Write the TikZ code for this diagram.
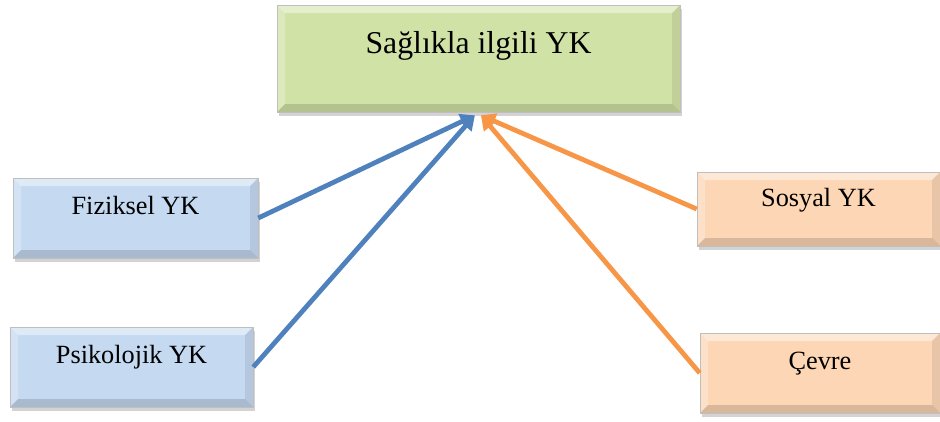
\documentclass[tikz,border=0pt]{standalone}
\usepackage{fontspec}
\setmainfont{Liberation Serif}
\usetikzlibrary{arrows.meta,positioning,shadows}
\definecolor{ykgreen}{RGB}{209,226,166}
\definecolor{ykblue}{RGB}{197,217,241}
\definecolor{ykpeach}{RGB}{252,214,181}
\definecolor{arblue}{RGB}{79,129,189}
\definecolor{arorange}{RGB}{247,150,70}
\newcommand{\bevelw}{0.2cm}
\tikzset{
  bevel/.style = {path picture={
      \fill[white, opacity=0.45]
        (path picture bounding box.north west) -- (path picture bounding box.north east)
        -- ([shift={(-\bevelw,-\bevelw)}]path picture bounding box.north east)
        -- ([shift={(\bevelw,-\bevelw)}]path picture bounding box.north west) -- cycle;
      \fill[white, opacity=0.25]
        (path picture bounding box.north west) -- (path picture bounding box.south west)
        -- ([shift={(\bevelw,\bevelw)}]path picture bounding box.south west)
        -- ([shift={(\bevelw,-\bevelw)}]path picture bounding box.north west) -- cycle;
      \fill[black, opacity=0.14]
        (path picture bounding box.south west) -- (path picture bounding box.south east)
        -- ([shift={(-\bevelw,\bevelw)}]path picture bounding box.south east)
        -- ([shift={(\bevelw,\bevelw)}]path picture bounding box.south west) -- cycle;
      \fill[black, opacity=0.08]
        (path picture bounding box.north east) -- (path picture bounding box.south east)
        -- ([shift={(-\bevelw,\bevelw)}]path picture bounding box.south east)
        -- ([shift={(-\bevelw,-\bevelw)}]path picture bounding box.north east) -- cycle;
  }},
  box/.style   = {draw=black!25, thin, bevel, inner sep=0pt,
                  drop shadow={shadow xshift=1.5pt, shadow yshift=-2.5pt, opacity=0.35},
                  font=\fontsize{18.7}{22}\selectfont,
                  text height=0.45cm, text depth=0.65cm},
  topbox/.style = {box, fill=ykgreen, minimum width=10.075cm, minimum height=2.675cm,
                   font=\fontsize{22.6}{27}\selectfont,
                   text height=0.55cm, text depth=0.78cm},
  lbox/.style  = {box, fill=ykblue},
  rbox/.style  = {box, fill=ykpeach},
  ar/.style    = {-{Triangle[length=3.6mm, width=3.9mm]}, line width=3.4pt},
}
\begin{document}
\begin{tikzpicture}
  \useasboundingbox (0,0) rectangle (23.5,-10.525);

  \node[topbox] (saglik) at (11.9625,-1.4625) {Sağlıkla ilgili YK};

  \node[lbox, minimum width=6.125cm, minimum height=2cm] (fiziksel) at (3.3875,-5.45) {Fiziksel YK};
  \node[lbox, minimum width=6.075cm, minimum height=2cm] (psiko) at (3.2875,-9.175) {Psikolojik YK};
  \node[rbox, minimum width=6.075cm, minimum height=1.85cm, text depth=0.57cm] (sosyal) at (20.4625,-5.225) {Sosyal YK};
  \node[rbox, minimum width=6cm, minimum height=2cm] (cevre) at (20.5,-9.325) {Çevre};

  \coordinate (bluetip) at ([shift={(-0.09,-0.075)}]saglik.south);
  \coordinate (orangetip) at ([shift={(0.06,-0.075)}]saglik.south);

  \draw[ar, arblue] (fiziksel.east) -- (bluetip);
  \draw[ar, arblue] (psiko.east) -- (bluetip);
  \draw[ar, arorange] (sosyal.west) -- (orangetip);
  \draw[ar, arorange] (cevre.west) -- (orangetip);
\end{tikzpicture}
\end{document}
